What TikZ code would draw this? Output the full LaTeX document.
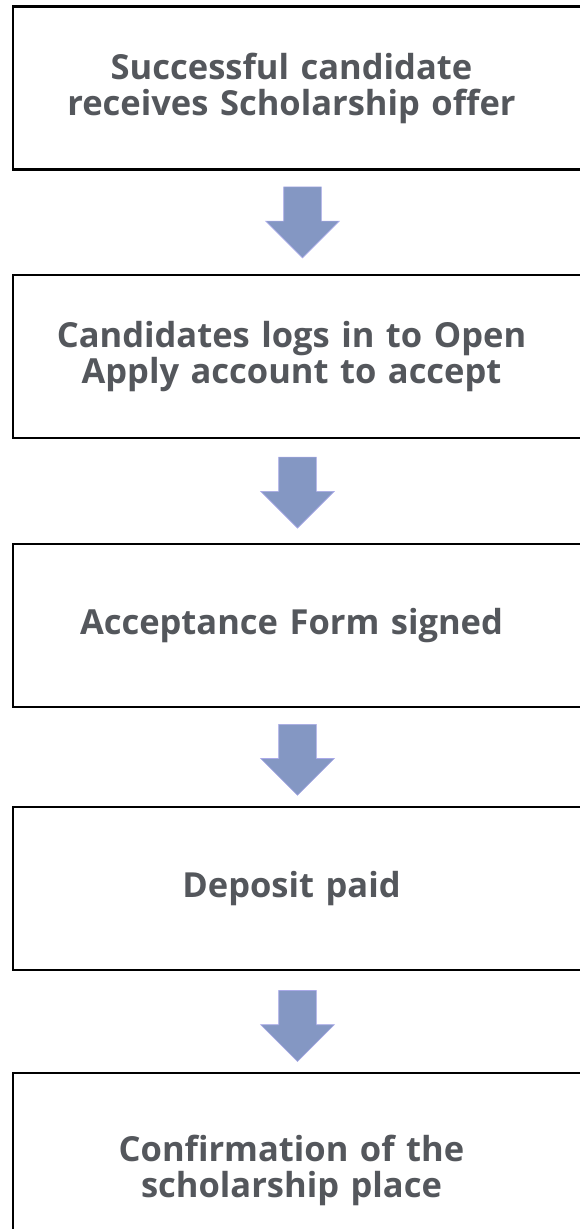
\documentclass[tikz,border=0pt]{standalone}
\usepackage{fontspec}
\setmainfont{Open Sans}[Ligatures=NoCommon]
\usetikzlibrary{positioning}
\usetikzlibrary{shapes.arrows}
\definecolor{textgrey}{HTML}{54575C}
\definecolor{arrowblue}{HTML}{8497C3}
\definecolor{arrowedge}{HTML}{A9A9E8}
\tikzstyle{stepbox} = [rectangle, minimum width=579pt, minimum height=163pt, text centered, text width=560pt, draw=black, line width=2.2pt, fill=white, text=textgrey, font=\fontsize{34.5}{36}\selectfont\bfseries, execute at begin node={\leftskip=0pt plus 1fil\rightskip=22pt plus 1fil\parfillskip=0pt\relax}]
\tikzstyle{downarrow} = [single arrow, rotate=-90, anchor=tail, minimum height=71pt, minimum width=72pt, single arrow head extend=18pt, inner xsep=0pt, inner ysep=18.5pt, fill=arrowblue, draw=arrowedge, line width=0.6pt]

\begin{document}
\begin{tikzpicture}[node distance=104pt]
  \useasboundingbox (0,0) rectangle (580pt,-1229pt);

  % the steps, top to bottom
  \node (offer) [stepbox] at (302.5pt,-88pt) {Successful candidate\\receives Scholarship offer};
  \node (login) [stepbox, node distance=103pt, below=of offer] {Candidates logs in to Open\\Apply account to accept};
  \node (form) [stepbox, node distance=104pt, below=of login] {Acceptance Form signed};
  \node (deposit) [stepbox, node distance=98pt, below=of form] {Deposit paid};
  \node (confirm) [stepbox, node distance=101pt, below=of deposit, minimum height=194pt] {Confirmation of the\\scholarship place};

  % block arrows between the steps
  \path (offer) -- node[pos=0, yshift=-16pt, downarrow] (arr1) {} (login);
  \path (login) -- node[pos=0, xshift=-5pt, yshift=-18pt, downarrow] (arr2) {} (form);
  \path (form) -- node[pos=0, xshift=-5pt, yshift=-16pt, downarrow] (arr3) {} (deposit);
  \path (deposit) -- node[pos=0, xshift=-5pt, yshift=-19pt, downarrow] (arr4) {} (confirm);

\end{tikzpicture}
\end{document}
